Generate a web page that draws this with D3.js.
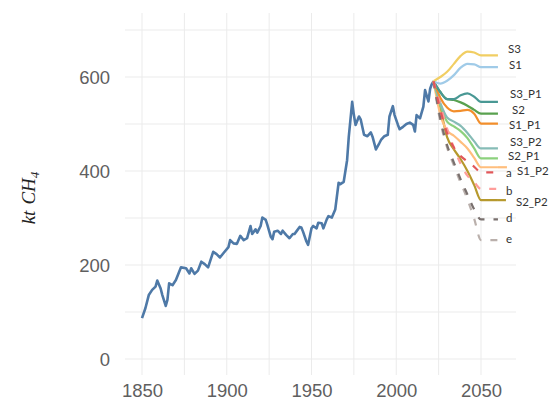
<!DOCTYPE html>
<html>
<head>
<meta charset="utf-8">
<script src="https://cdn.jsdelivr.net/npm/d3@7"></script>
<style>
  body { margin: 0; background: #ffffff; }
  svg { display: block; }
</style>
</head>
<body>
<svg id="chart" width="552" height="402"></svg>
<script>
// Historical methane emissions (kt CH4)
const histYears = [1850, 1852, 1854, 1856, 1858, 1859, 1861, 1862, 1864, 1865, 1866, 1868, 1870,
  1873, 1876, 1878, 1879, 1881, 1883, 1885, 1887, 1889, 1892, 1894, 1896, 1898, 1901, 1902,
  1904, 1906, 1908, 1910, 1912, 1914, 1915, 1917, 1918, 1920, 1921, 1923, 1924, 1926, 1927,
  1928, 1930, 1932, 1933, 1935, 1937, 1939, 1940, 1941, 1943, 1944, 1945, 1947, 1948, 1950,
  1951, 1953, 1954, 1956, 1957, 1959, 1960, 1962, 1964, 1966, 1967, 1969, 1971, 1972, 1974,
  1975, 1976, 1978, 1979, 1981, 1983, 1985, 1986, 1988, 1990, 1991, 1993, 1995, 1996, 1998,
  1999, 2001, 2002, 2004, 2006, 2008, 2010, 2011, 2012, 2014, 2016, 2017, 2018, 2019, 2020,
  2021, 2022];
const histValues = [87, 108, 136, 147, 154, 167, 150, 136, 113, 126, 161, 157, 168,
  195, 193, 182, 193, 181, 188, 207, 202, 195, 228, 223, 216, 225, 238, 253,
  246, 245, 262, 253, 257, 283, 266, 276, 269, 283, 301, 296, 285, 260, 255,
  271, 273, 266, 273, 264, 257, 266, 266, 271, 281, 280, 271, 250, 243, 278,
  283, 278, 290, 289, 278, 297, 304, 301, 318, 375, 372, 377, 423, 473, 547,
  519, 498, 516, 510, 477, 474, 482, 473, 446, 459, 466, 474, 477, 516, 538,
  519, 498, 489, 494, 500, 503, 498, 484, 519, 512, 537, 572, 560, 548, 575,
  585, 591];

// Projection scenarios
const scenarioYears = [2022, 2026, 2030, 2034, 2038, 2042, 2046, 2050, 2060];
const s3Values   = [591, 600, 611, 628, 645, 654, 652, 646, 646];
const s1Values   = [591, 586, 592, 604, 620, 628, 627, 621, 621];
const s3p1Values = [591, 568, 553, 553, 561, 565, 558, 547, 547];
const s2Values   = [591, 568, 553, 551, 546, 539, 530, 522, 522];
const s1p1Values = [591, 556, 535, 527, 528, 530, 522, 501, 501];
const s3p2Values = [591, 545, 514, 505, 496, 481, 463, 448, 448];
const s2p1Values = [591, 540, 505, 495, 485, 470, 448, 427, 427];
const s1p2Values = [591, 520, 486, 475, 462, 448, 428, 408, 408];
const s2p2Values = [591, 535, 472, 446, 425, 400, 370, 338, 338];
const aValues    = [591, 530, 480, 450, 432, 420, 409, 397, 397];
const bValues    = [591, 540, 490, 450, 415, 390, 376, 362, 362];
const dValues    = [591, 512, 455, 418, 382, 350, 318, 297, 297];
const eValues    = [591, 505, 450, 412, 375, 340, 298, 253, 253];

const scenarioNames  = ["S3", "S1", "S3_P1", "S2", "S1_P1", "S3_P2", "S2_P1", "S1_P2", "S2_P2", "a", "b", "d", "e"];
const scenarioSeries = [s3Values, s1Values, s3p1Values, s2Values, s1p1Values, s3p2Values, s2p1Values,
  s1p2Values, s2p2Values, aValues, bValues, dValues, eValues];
const dashedNames = ["a", "b", "d", "e"];

const xTicks = [1850, 1900, 1950, 2000, 2050];
const yTicks = [0, 200, 400, 600];

// Styling
const colors = {
  hist: "#4e79a7",
  S3: "#f1ce63", S1: "#a0cbe8", S3_P1: "#499894", S2: "#59a14f", S1_P1: "#f28e2b",
  S3_P2: "#86bcb6", S2_P1: "#8cd17d", S1_P2: "#ffbe7d", S2_P2: "#b6992d",
  a: "#e15759", b: "#ff9d9a", d: "#79706e", e: "#bab0ac"
};
// label placement next to line ends: [dx, dy] in px
const labelNudge = {
  S3: [10, -6.5], S1: [11, -2], S3_P1: [12, -8], S2: [14, -3.5], S1_P1: [11, 1.5],
  S3_P2: [12, -6.5], S2_P1: [10, -2.3], S1_P2: [19, 3.8], S2_P2: [18, 2],
  a: [8, 0], b: [8, 2], d: [8, -2], e: [8, -1]
};

const svg = d3.select("#chart");
const panel = { left: 125, right: 516, top: 13, bottom: 375 };

const x = d3.scaleLinear().domain([1850, 2050]).range([142, 481]);
const y = d3.scaleLinear().domain([0, 700]).range([359, 30]);

// grid
const g = svg.append("g");
g.selectAll("line.vg")
  .data(d3.range(1850, 2051, 25))
  .join("line")
  .attr("x1", d => x(d)).attr("x2", d => x(d))
  .attr("y1", panel.top).attr("y2", panel.bottom)
  .attr("stroke", "#ebebeb").attr("stroke-width", 1);
g.selectAll("line.hg")
  .data(d3.range(0, 701, 100))
  .join("line")
  .attr("x1", panel.left).attr("x2", panel.right)
  .attr("y1", d => y(d)).attr("y2", d => y(d))
  .attr("stroke", "#ebebeb").attr("stroke-width", 1);

// axes (labels only)
const xAxis = d3.axisBottom(x).tickValues(xTicks).tickSize(0).tickPadding(0).tickFormat(d3.format("d"));
const xg = svg.append("g").attr("transform", `translate(0,${panel.bottom})`).call(xAxis);
xg.select(".domain").remove();
xg.selectAll("text")
  .attr("y", 22).attr("dy", 0)
  .attr("font-family", "Liberation Sans, Arial, sans-serif")
  .attr("font-size", 18.5).attr("fill", "#5f5f5f");

const yAxis = d3.axisLeft(y).tickValues(yTicks).tickSize(0).tickPadding(0);
const yg = svg.append("g").attr("transform", `translate(110,0)`).call(yAxis);
yg.select(".domain").remove();
yg.selectAll("text")
  .attr("x", 0).attr("dy", "0.36em")
  .attr("font-family", "Liberation Sans, Arial, sans-serif")
  .attr("font-size", 18.5).attr("fill", "#5f5f5f");

// y title
const yt = svg.append("text")
  .attr("transform", "translate(35,198) rotate(-90)")
  .attr("text-anchor", "middle")
  .attr("font-family", "Liberation Serif, DejaVu Serif, serif")
  .attr("font-style", "italic")
  .attr("font-size", 19).attr("fill", "#222");
yt.append("tspan").text("kt");
yt.append("tspan").attr("dx", 6).text("CH");
yt.append("tspan").attr("font-size", 13).attr("dy", 4).text("4");

// lines
const line = d3.line()
  .x(d => x(d[0])).y(d => y(d[1]));
const smooth = d3.line()
  .x(d => x(d[0])).y(d => y(d[1]))
  .curve(d3.curveMonotoneX);

const scenarios = scenarioNames.map((name, i) => ({
  name,
  points: scenarioYears.map((yr, j) => [yr, scenarioSeries[i][j]]),
  dashed: dashedNames.includes(name)
}));

svg.append("path")
  .datum(histYears.map((yr, i) => [yr, histValues[i]]))
  .attr("d", line)
  .attr("fill", "none")
  .attr("stroke", colors.hist)
  .attr("stroke-width", 2.6)
  .attr("stroke-linejoin", "round");

const solid = scenarios.filter(s => !s.dashed);
const dashed = scenarios.filter(s => s.dashed);

svg.append("g").selectAll("path")
  .data(solid.slice().reverse())
  .join("path")
  .attr("d", d => smooth(d.points))
  .attr("fill", "none")
  .attr("stroke", d => colors[d.name])
  .attr("stroke-width", 2.2);

svg.append("g").selectAll("path")
  .data(dashed.slice().reverse())
  .join("path")
  .attr("d", d => smooth(d.points))
  .attr("fill", "none")
  .attr("stroke", d => colors[d.name])
  .attr("stroke-width", 2.2)
  .attr("stroke-dasharray", "7,9");

// end labels
const labels = svg.append("g");
scenarios.forEach(s => {
  const last = s.points[s.points.length - 1];
  const ex = x(last[0]), ey = y(last[1]);
  const [dx, dy] = labelNudge[s.name];
  if (dx > 15 && !s.dashed) {
    labels.append("line")
      .attr("x1", ex).attr("x2", ex + dx - 10)
      .attr("y1", ey).attr("y2", ey)
      .attr("stroke", colors[s.name]).attr("stroke-width", 2.2);
  }
  labels.append("text")
    .attr("x", ex + dx).attr("y", ey + dy)
    .attr("dy", "0.36em")
    .attr("font-family", "Lato, Noto Sans, sans-serif")
    .attr("font-size", 11.5)
    .attr("fill", "#333")
    .text(s.name);
});
</script>
</body>
</html>
